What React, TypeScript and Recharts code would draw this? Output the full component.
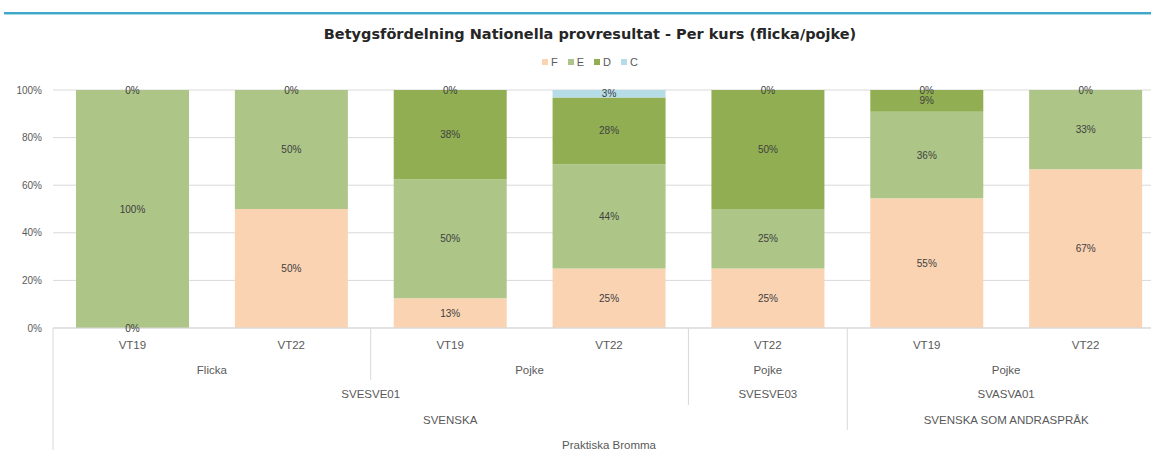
import React from 'react';
import { BarChart, Bar, XAxis, YAxis, CartesianGrid, LabelList } from 'recharts';

const periods = ['VT19', 'VT22', 'VT19', 'VT22', 'VT22', 'VT19', 'VT22'];
const genders = ['Flicka', 'Flicka', 'Pojke', 'Pojke', 'Pojke', 'Pojke', 'Pojke'];
const courses = ['SVESVE01', 'SVESVE01', 'SVESVE01', 'SVESVE01', 'SVESVE03', 'SVASVA01', 'SVASVA01'];
const subjects = ['SVENSKA', 'SVENSKA', 'SVENSKA', 'SVENSKA', 'SVENSKA', 'SVENSKA SOM ANDRASPRÅK', 'SVENSKA SOM ANDRASPRÅK'];
const schools = ['Praktiska Bromma', 'Praktiska Bromma', 'Praktiska Bromma', 'Praktiska Bromma', 'Praktiska Bromma', 'Praktiska Bromma', 'Praktiska Bromma'];

const fValues = [0, 50, 12.5, 25, 25, 54.5, 66.7];
const eValues = [100, 50, 50, 43.8, 25, 36.4, 33.3];
const dValues = [0, 0, 37.5, 28.1, 50, 9.1, 0];
const cValues: (number | null)[] = [null, null, 0, 3.1, 0, 0, null];

const yTicks = [0, 20, 40, 60, 80, 100];

const series = [
  { key: 'F', color: '#FAD3B3' },
  { key: 'E', color: '#ADC587' },
  { key: 'D', color: '#91AF52' },
  { key: 'C', color: '#B5DCE7' },
];

const data = periods.map((p, i) => ({
  period: p,
  F: fValues[i],
  E: eValues[i],
  D: dValues[i],
  C: cValues[i],
}));

// nested category levels below the period row (outermost last)
const levels = [genders, courses, subjects, schools];
const rowOffsets = [42, 66, 92, 117];
const lineDepths = [52, 77, 102, 125];

const keyAt = (level: number, i: number) => {
  let k = '';
  for (let l = levels.length - 1; l >= level; l--) k += levels[l][i] + '|';
  return k;
};

const FONT = "'Liberation Sans', Arial, sans-serif";
const AXIS_COLOR = '#595959';
const LINE_COLOR = '#D9D9D9';

const fmt = (v: any) => (v === null || v === undefined ? '' : `${Math.round(Number(v))}%`);

const MultiTick = (props: any) => {
  const { x, y, payload, width } = props;
  const i = payload.index;
  const n = periods.length;
  const band = width / n;
  const parts: React.ReactNode[] = [];

  parts.push(
    <text key="p" x={x} y={y + 17} dy="0.35em" textAnchor="middle" fontSize={11.5} fill={AXIS_COLOR} fontFamily={FONT}>
      {periods[i]}
    </text>
  );

  let deepest = -1;
  levels.forEach((lvl, l) => {
    const k = keyAt(l, i);
    const isStart = i === 0 || keyAt(l, i - 1) !== k;
    if (!isStart) return;
    deepest = l;
    let run = 1;
    while (i + run < n && keyAt(l, i + run) === k) run++;
    parts.push(
      <text
        key={'l' + l}
        x={x + ((run - 1) * band) / 2}
        y={y + rowOffsets[l]}
        dy="0.35em"
        textAnchor="middle"
        fontSize={11.5}
        fill={AXIS_COLOR}
        fontFamily={FONT}
      >
        {lvl[i]}
      </text>
    );
  });

  if (deepest >= 0) {
    parts.push(
      <line key="sep" x1={x - band / 2} x2={x - band / 2} y1={y} y2={y + lineDepths[deepest]} stroke={LINE_COLOR} />
    );
  }
  if (i === n - 1) {
    parts.push(<line key="end" x1={x + band / 2} x2={x + band / 2} y1={y} y2={y + 125} stroke={LINE_COLOR} />);
  }
  return <g>{parts}</g>;
};

export default function App() {
  return (
    <div style={{ position: 'absolute', left: 0, top: 0, width: 1151, height: 450, overflow: 'hidden', background: '#fff', fontFamily: FONT }}>
      <div style={{ position: 'absolute', left: 4, right: 0, top: 12, height: 2, background: '#3FA7C8' }} />
      <div style={{ position: 'absolute', left: 4, right: 0, top: 14, height: 1, background: '#A9D8E8' }} />
      <div
        style={{
          position: 'absolute',
          left: 0,
          width: 1180,
          top: 26,
          textAlign: 'center',
          fontSize: 14.5,
          fontWeight: 'bold',
          fontFamily: "'DejaVu Sans', sans-serif",
          color: '#262626',
        }}
      >
        Betygsfördelning Nationella provresultat - Per kurs (flicka/pojke)
      </div>
      <div
        style={{
          position: 'absolute',
          left: 0,
          width: 1180,
          top: 56,
          display: 'flex',
          justifyContent: 'center',
          gap: 10,
          fontSize: 11,
          color: AXIS_COLOR,
        }}
      >
        {series.map((s) => (
          <span key={s.key} style={{ display: 'flex', alignItems: 'center', gap: 3 }}>
            <span style={{ display: 'inline-block', width: 6, height: 6, background: s.color }} />
            {s.key}
          </span>
        ))}
      </div>
      <div style={{ position: 'absolute', left: 0, top: 0 }}>
        <BarChart width={1180} height={450} data={data} margin={{ top: 90, right: 15, left: 0, bottom: 0 }}>
          <CartesianGrid vertical={false} stroke={LINE_COLOR} />
          <XAxis
            dataKey="period"
            height={122}
            tickLine={false}
            tickSize={0}
            tickMargin={0}
            axisLine={{ stroke: LINE_COLOR }}
            interval={0}
            tick={<MultiTick />}
          />
          <YAxis
            width={53}
            domain={[0, 100]}
            ticks={yTicks}
            tickFormatter={(v) => `${v}%`}
            axisLine={false}
            tickLine={false}
            tickSize={0}
            tickMargin={11}
            tick={{ fontSize: 10, fill: AXIS_COLOR, fontFamily: FONT }}
          />
          {series.map((s) => (
            <Bar
              key={s.key}
              dataKey={s.key}
              stackId="a"
              fill={s.color}
              barSize={113}
              minPointSize={0.01}
              isAnimationActive={false}
            >
              <LabelList dataKey={s.key} position="center" formatter={fmt} fill="#404040" fontSize={10} fontFamily={FONT} />
            </Bar>
          ))}
        </BarChart>
      </div>
    </div>
  );
}
